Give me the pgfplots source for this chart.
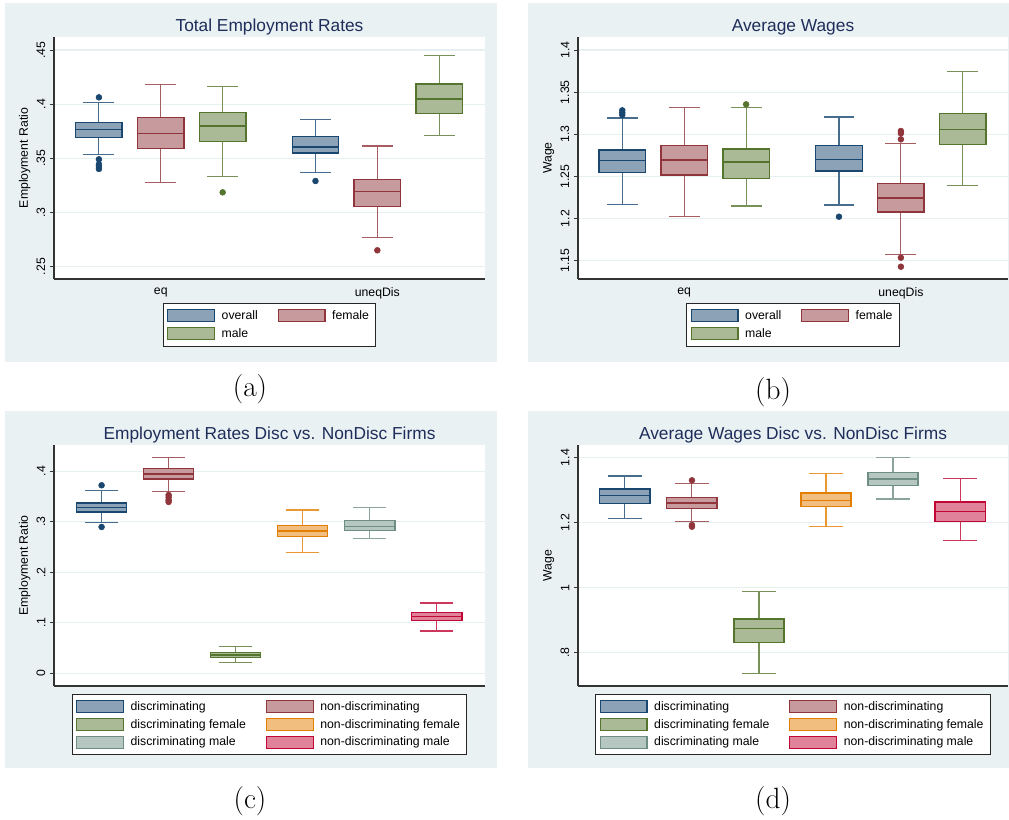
\documentclass[border=0pt]{standalone}
\usepackage{fontspec}
\usepackage{pgfplots}
\pgfplotsset{compat=1.18}
\usepgfplotslibrary{statistics}
\newfontfamily\arial{Liberation Sans}

\definecolor{navyC}{RGB}{26,71,111}
\definecolor{maroonC}{RGB}{144,53,59}
\definecolor{forestC}{RGB}{85,117,47}
\definecolor{orangeC}{RGB}{227,126,0}
\definecolor{tealC}{RGB}{110,142,132}
\definecolor{cranC}{RGB}{193,5,52}
\colorlet{navyF}{navyC!50!white}
\colorlet{maroonF}{maroonC!50!white}
\colorlet{forestF}{forestC!50!white}
\colorlet{orangeF}{orangeC!50!white}
\colorlet{tealF}{tealC!50!white}
\colorlet{cranF}{cranC!50!white}
\definecolor{bgc}{RGB}{233,241,243}
\definecolor{gridc}{RGB}{230,240,241}
\definecolor{titlec}{RGB}{30,45,90}

\pgfplotsset{
  stata/.style={
    scale only axis, anchor=north west,
    axis lines*=left, axis line style={black!80, line width=0.8pt},
    axis background/.style={fill=white},
    ymajorgrids, major grid style={draw=gridc, line width=0.8pt},
    tick align=outside, ytick pos=left, major tick length=3pt,
    y tick style={black!80, line width=0.6pt},
    xtick style={draw=none},
    tick label style={font=\arial\fontsize{9.2}{11}\selectfont, black},
    yticklabel style={rotate=90, anchor=south},
    label style={font=\arial\fontsize{9.2}{11}\selectfont},
    ylabel style={at={(axis description cs:-0.068,0.5)}, anchor=center},
    title style={font=\arial\fontsize{13}{15}\selectfont, text=titlec, at={(0.5,1)}, anchor=base, yshift=-1.6pt},
    legend columns=2, legend cell align=left,
    legend style={anchor=north, draw=black!85, line width=0.6pt, fill=white,
      font=\arial\fontsize{9.2}{11}\selectfont, inner xsep=3pt, inner ysep=3.2pt,
      /tikz/every odd column/.append style={column sep=3pt},
      /tikz/every even column/.append style={column sep=13pt}, row sep=1.2pt},
  },
  bp/.style={forget plot, draw=#1C, fill=#1F, mark=*, mark size=2.2pt,
    mark options={draw=#1C, fill=#1C, solid, line width=0.4pt}, line width=1pt,
    boxplot/draw direction=y,
    boxplot/box extend=0.75, boxplot/whisker extend=0.5,
    boxplot/every whisker/.style={line width=0.8pt, draw=#1C!80!white}},
  legimg/.style={legend image code/.code={\draw[draw=#1C, fill=#1F, line width=0.8pt] (0pt,-4.6pt) rectangle (35pt,4.6pt);}},
}

\newcommand\bx[8]{\addplot[bp=#1, boxplot prepared={draw position=#2, lower whisker=#3, lower quartile=#4, median=#5, upper quartile=#6, upper whisker=#7}] coordinates {#8};}

\begin{document}
\begin{tikzpicture}
\begin{scope}[x=0.75pt,y=-0.75pt]
  \fill[bgc] (5,3) rectangle (497,362);
  \fill[bgc] (528,3) rectangle (1009,362);
  \fill[bgc] (5,411) rectangle (497,768);
  \fill[bgc] (528,411) rectangle (1009,768);
  \node[font=\fontsize{22}{26}\selectfont] at (250,389) {(a)};
  \node[font=\fontsize{22}{26}\selectfont] at (773,392) {(b)};
  \node[font=\fontsize{22}{26}\selectfont] at (250,801) {(c)};
  \node[font=\fontsize{22}{26}\selectfont] at (773,801) {(d)};
\end{scope}

% (a)
\begin{axis}[stata, at={(40.5pt,-27.75pt)}, width=323.25pt, height=181.5pt,
  xmin=0.274, xmax=7.24, ymin=0.2386, ymax=0.462,
  xtick={2,5.5}, xticklabels={eq,uneqDis},
  ytick={0.25,0.3,0.35,0.4,0.45}, yticklabels={.25,.3,.35,.4,.45},
  ylabel={Employment Ratio}, title={Total Employment Rates},
  legend style={at={(0.5,-0.099)}}]
\bx{navy}{1}{0.3537}{0.3694}{0.3768}{0.3829}{0.4017}{(0,0.4063) (0,0.3491) (0,0.3445) (0,0.3423) (0,0.3402)}
\bx{maroon}{2}{0.3275}{0.3592}{0.3731}{0.3875}{0.4183}{}
\bx{forest}{3}{0.3331}{0.3654}{0.3798}{0.3922}{0.4162}{(0,0.3186)}
\bx{navy}{4.5}{0.3365}{0.3549}{0.3605}{0.3700}{0.3857}{(0,0.3291)}
\bx{maroon}{5.5}{0.2768}{0.3057}{0.3192}{0.3303}{0.3614}{(0,0.2651)}
\bx{forest}{6.5}{0.3712}{0.3915}{0.4048}{0.4186}{0.4448}{}
\addlegendimage{legimg=navy}\addlegendentry{overall}
\addlegendimage{legimg=maroon}\addlegendentry{female}
\addlegendimage{legimg=forest}\addlegendentry{male}
\end{axis}

% (b)
\begin{axis}[stata, at={(433.5pt,-27.75pt)}, width=322.5pt, height=181.5pt,
  xmin=0.285, xmax=7.23, ymin=1.1283, ymax=1.4154,
  xtick={2,5.5}, xticklabels={eq,uneqDis},
  ytick={1.15,1.2,1.25,1.3,1.35,1.4}, yticklabels={1.15,1.2,1.25,1.3,1.35,1.4},
  ylabel={Wage}, title={Average Wages},
  legend style={at={(0.5,-0.099)}}]
\bx{navy}{1}{1.2168}{1.2544}{1.2691}{1.2813}{1.3193}{(0,1.3284) (0,1.3256) (0,1.3229)}
\bx{maroon}{2}{1.2022}{1.2517}{1.2695}{1.2865}{1.3320}{}
\bx{forest}{3}{1.2149}{1.2473}{1.2671}{1.2825}{1.3316}{(0,1.3355)}
\bx{navy}{4.5}{1.2161}{1.2564}{1.2699}{1.2865}{1.3205}{(0,1.2022)}
\bx{maroon}{5.5}{1.1579}{1.2078}{1.2244}{1.2418}{1.2888}{(0,1.3039) (0,1.3011) (0,1.2940) (0,1.1536) (0,1.1429)}
\bx{forest}{6.5}{1.2390}{1.2881}{1.3059}{1.3244}{1.3747}{}
\addlegendimage{legimg=navy}\addlegendentry{overall}
\addlegendimage{legimg=maroon}\addlegendentry{female}
\addlegendimage{legimg=forest}\addlegendentry{male}
\end{axis}

% (c)
\begin{axis}[stata, at={(40.5pt,-333.75pt)}, width=323.25pt, height=180.75pt,
  xmin=0.29, xmax=6.72, ymin=-0.0251, ymax=0.452,
  xtick=\empty,
  ytick={0,0.1,0.2,0.3,0.4}, yticklabels={0,.1,.2,.3,.4},
  ylabel={Employment Ratio}, title={Employment Rates Disc vs. NonDisc Firms},
  legend style={at={(0.5,-0.033)}}]
\bx{navy}{1}{0.2990}{0.3195}{0.3287}{0.3373}{0.3617}{(0,0.3723) (0,0.2898)}
\bx{maroon}{2}{0.3604}{0.3848}{0.3947}{0.4053}{0.4271}{(0,0.3531) (0,0.3485) (0,0.3432) (0,0.3393)}
\bx{forest}{3}{0.0218}{0.0317}{0.0363}{0.0409}{0.0528}{}
\bx{orange}{4}{0.2396}{0.2713}{0.2818}{0.2931}{0.3234}{}
\bx{teal}{5}{0.2673}{0.2825}{0.2904}{0.3023}{0.3274}{}
\bx{cran}{6}{0.0838}{0.1050}{0.1129}{0.1208}{0.1393}{}
\addlegendimage{legimg=navy}\addlegendentry{discriminating}
\addlegendimage{legimg=maroon}\addlegendentry{non-discriminating}
\addlegendimage{legimg=forest}\addlegendentry{discriminating female}
\addlegendimage{legimg=orange}\addlegendentry{non-discriminating female}
\addlegendimage{legimg=teal}\addlegendentry{discriminating male}
\addlegendimage{legimg=cran}\addlegendentry{non-discriminating male}
\end{axis}

% (d)
\begin{axis}[stata, at={(433.5pt,-333.75pt)}, width=322.5pt, height=180.75pt,
  xmin=0.30, xmax=6.716, ymin=0.6975, ymax=1.439,
  xtick=\empty,
  ytick={0.8,1,1.2,1.4}, yticklabels={.8,1,1.2,1.4},
  ylabel={Wage}, title={Average Wages Disc vs. NonDisc Firms},
  legend style={at={(0.5,-0.033)}}]
\bx{navy}{1}{1.2123}{1.2585}{1.2841}{1.3036}{1.3436}{}
\bx{maroon}{2}{1.2041}{1.2441}{1.2605}{1.2780}{1.3220}{(0,1.3303) (0,1.1928) (0,1.1877)}
\bx{forest}{3}{0.7364}{0.8318}{0.8749}{0.9036}{0.9877}{}
\bx{orange}{4}{1.1887}{1.2492}{1.2687}{1.2913}{1.3508}{}
\bx{teal}{5}{1.2728}{1.3149}{1.3344}{1.3549}{1.4000}{}
\bx{cran}{6}{1.1446}{1.2031}{1.2349}{1.2636}{1.3374}{}
\addlegendimage{legimg=navy}\addlegendentry{discriminating}
\addlegendimage{legimg=maroon}\addlegendentry{non-discriminating}
\addlegendimage{legimg=forest}\addlegendentry{discriminating female}
\addlegendimage{legimg=orange}\addlegendentry{non-discriminating female}
\addlegendimage{legimg=teal}\addlegendentry{discriminating male}
\addlegendimage{legimg=cran}\addlegendentry{non-discriminating male}
\end{axis}

\pgfresetboundingbox
\useasboundingbox (0pt,0pt) rectangle (756.75pt,-614.25pt);
\end{tikzpicture}
\end{document}
